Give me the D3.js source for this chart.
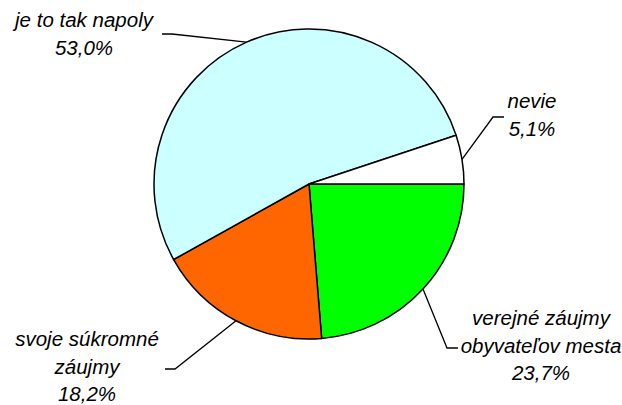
<!DOCTYPE html>
<html>
<head>
<meta charset="utf-8">
<script src="https://cdn.jsdelivr.net/npm/d3@7"></script>
<style>
  body { margin: 0; background: #fff; }
  text { font-family: "Liberation Sans", Arial, sans-serif; font-style: italic; font-size: 20.5px; fill: #000; }
</style>
</head>
<body>
<div id="chart"></div>
<script>
// data
const categories = ["verejné záujmy obyvateľov mesta", "svoje súkromné záujmy", "je to tak napoly", "nevie"];
const labelLines = [
  ["verejné záujmy", "obyvateľov mesta"],
  ["svoje súkromné", "záujmy"],
  ["je to tak napoly"],
  ["nevie"]
];
const values = [23.7, 18.2, 53.0, 5.1];
const colors = ["#00ff00", "#ff6600", "#ccffff", "#ffffff"];

const width = 622, height = 405;
const cx = 309, cy = 184, r = 155;

// label placement: elbow point, end of leader, text centre and first baseline
const layout = [
  { elbow: [447, 348], end: [458, 348], tx: 541, ty: 325 },
  { elbow: [175, 369], end: [165, 369], tx: 87, ty: 346 },
  { elbow: [172, 34], end: [162, 34], tx: 84, ty: 27 },
  { elbow: [493, 117], end: [504, 117], tx: 532, ty: 108 }
];

const svg = d3.select("#chart").append("svg")
  .attr("width", width)
  .attr("height", height);

const pie = d3.pie()
  .sort(null)
  .value(d => d)
  .startAngle(Math.PI / 2)
  .endAngle(Math.PI / 2 + 2 * Math.PI);

const arcs = pie(values);
const arc = d3.arc().innerRadius(0).outerRadius(r);

const g = svg.append("g").attr("transform", `translate(${cx},${cy})`);

g.selectAll("path")
  .data(arcs)
  .join("path")
  .attr("d", arc)
  .attr("fill", (d, i) => colors[i])
  .attr("stroke", "#000")
  .attr("stroke-width", 1.5)
  .attr("stroke-linejoin", "round");

// leader lines
const fmt = v => v.toFixed(1).replace(".", ",") + "%";

arcs.forEach((d, i) => {
  const mid = (d.startAngle + d.endAngle) / 2;
  const px = cx + r * Math.sin(mid);
  const py = cy - r * Math.cos(mid);
  const L = layout[i];
  svg.append("polyline")
    .attr("points", [[px, py], L.elbow, L.end].map(p => p.join(",")).join(" "))
    .attr("fill", "none")
    .attr("stroke", "#000")
    .attr("stroke-width", 1.3);

  const lines = labelLines[i].concat([fmt(values[i])]);
  const t = svg.append("text")
    .attr("text-anchor", "middle")
    .attr("x", L.tx)
    .attr("y", L.ty);
  lines.forEach((s, k) => {
    t.append("tspan")
      .attr("x", L.tx)
      .attr("dy", k === 0 ? 0 : 27.7)
      .text(s);
  });
});
</script>
</body>
</html>
